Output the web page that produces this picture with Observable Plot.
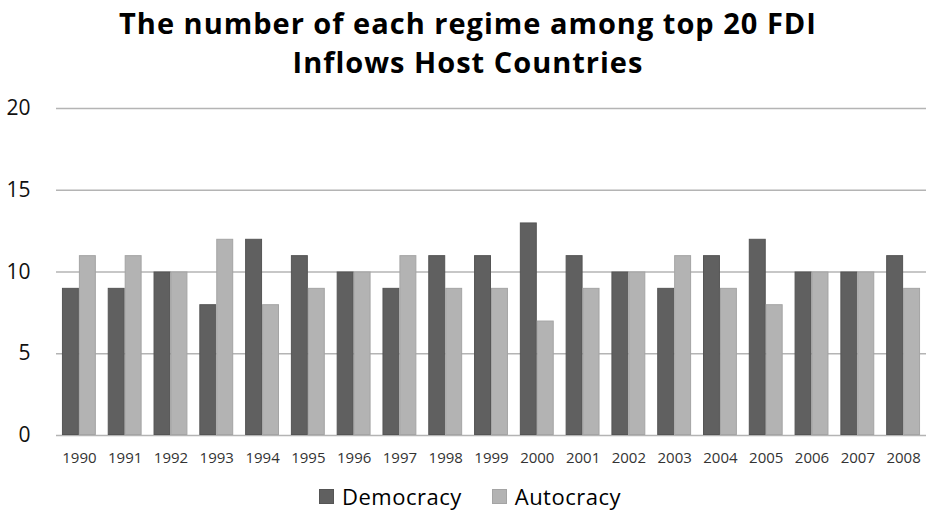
<!DOCTYPE html>
<html>
<head>
<meta charset="utf-8">
<script src="https://cdn.jsdelivr.net/npm/d3@7"></script>
<script src="https://cdn.jsdelivr.net/npm/@observablehq/plot@0.6"></script>
<style>
  html, body { margin: 0; padding: 0; background: #fff; }
  #wrap { position: relative; width: 927px; height: 512px; font-family: "Open Sans", sans-serif; }
  #title { position: absolute; left: 0; top: 3px; width: 936px; text-align: center; font-weight: bold; font-size: 29px; letter-spacing: 1px; line-height: 39px; color: #000; }
  #legend { position: absolute; top: 481px; left: 0; width: 940px; display: flex; justify-content: center; gap: 30px; font-size: 22px; letter-spacing: 0.5px; color: #000; }
  #legend span.item { display: flex; align-items: center; gap: 8px; }
  #legend i { display: inline-block; width: 13px; height: 13px; }
  #chart { position: absolute; left: 0; top: 0; }
</style>
</head>
<body>
<div id="wrap">
  <div id="chart"></div>
  <div id="title">The number of each regime among top 20 FDI<br>Inflows Host Countries</div>
  <div id="legend"></div>
</div>
<script>
const years = ["1990","1991","1992","1993","1994","1995","1996","1997","1998","1999","2000","2001","2002","2003","2004","2005","2006","2007","2008"];
const democracy = [9, 9, 10, 8, 12, 11, 10, 9, 11, 11, 13, 11, 10, 9, 11, 12, 10, 10, 11];
const autocracy = [11, 11, 10, 12, 8, 9, 10, 11, 9, 9, 7, 9, 10, 11, 9, 8, 10, 10, 9];
const yTicks = [0, 5, 10, 15, 20];
const regimes = ["Democracy", "Autocracy"];
const fills = ["#606060", "#b3b3b3"];
const strokes = ["#555555", "#a4a4a4"];

// Each year occupies one unit on x; the two bars sit side by side around its centre.
const half = 0.37;
const rows = years.flatMap((y, i) => [
  {i, regime: 0, x1: i - half, x2: i, value: democracy[i]},
  {i, regime: 1, x1: i, x2: i + half, value: autocracy[i]}
]);

const chart = Plot.plot({
  width: 927,
  height: 512,
  marginTop: 108,
  marginBottom: 77,
  marginLeft: 56,
  marginRight: 1,
  style: {fontFamily: "Open Sans, sans-serif", background: "transparent"},
  x: {domain: [-0.5, years.length - 0.5], label: null},
  y: {domain: [0, 20], label: null},
  marks: [
    Plot.ruleY(yTicks, {stroke: "#b4b4b4", strokeWidth: 1.5}),
    Plot.rectY(rows, {
      x1: "x1", x2: "x2", y: "value",
      fill: d => fills[d.regime],
      stroke: d => strokes[d.regime],
      strokeWidth: 1,
      inset: 0.5
    }),
    Plot.axisY({ticks: yTicks, tickSize: 0, tickPadding: 26, fontSize: 21, fill: "#111", label: null}),
    Plot.axisX({ticks: d3.range(years.length), tickFormat: i => years[i], tickSize: 0, tickPadding: 17, fontSize: 15, fill: "#333", label: null})
  ]
});
document.getElementById("chart").appendChild(chart);

const legend = document.getElementById("legend");
regimes.forEach((r, i) => {
  const item = document.createElement("span");
  item.className = "item";
  const sw = document.createElement("i");
  sw.style.background = fills[i];
  sw.style.border = "1px solid " + strokes[i];
  item.appendChild(sw);
  item.appendChild(document.createTextNode(r));
  legend.appendChild(item);
});
</script>
</body>
</html>
